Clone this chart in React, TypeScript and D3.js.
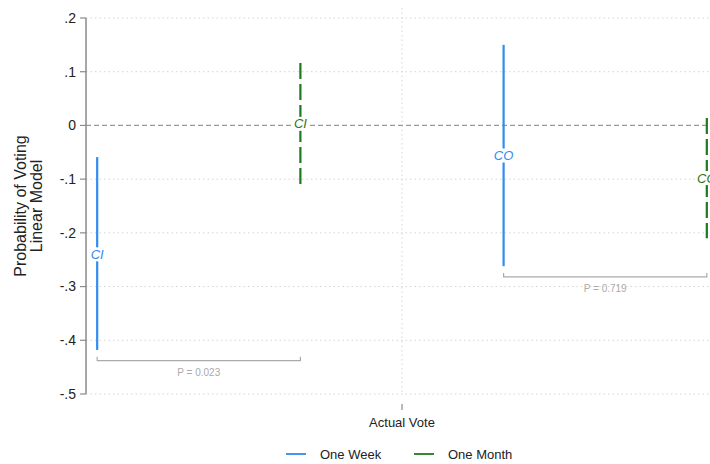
import React from "react";
import * as d3 from "d3";

const categories = ["CI", "CO"];
const seriesNames = ["One Week", "One Month"];
const estimates = [
  [-0.24, 0.003],
  [-0.056, -0.098],
];
const lowers = [
  [-0.418, -0.109],
  [-0.262, -0.21],
];
const uppers = [
  [-0.059, 0.116],
  [0.15, 0.014],
];
const pValues = ["P = 0.023", "P = 0.719"];
const yTicks = [0.2, 0.1, 0, -0.1, -0.2, -0.3, -0.4, -0.5];
const yTickLabels = [".2", ".1", "0", "-.1", "-.2", "-.3", "-.4", "-.5"];
const xTitle = "Actual Vote";
const yTitle = ["Probability of Voting", "Linear Model"];

const W = 710;
const H = 464;
const colors = ["#2f8cf0", "#1f7a1f"];
const dashes = ["none", "16,5"];
const FONT = "'Liberation Sans', Arial, sans-serif";

export default function App() {
  const y = d3.scaleLinear().domain([-0.5, 0.2]).range([394, 18]);
  const x = d3.scaleLinear().domain([0.945, 4.055]).range([86, 718]);
  const pos = (ci: number, si: number) => 1 + ci * 2 + si;

  return (
    <svg width={W} height={H} style={{ position: "absolute", left: 0, top: 0, background: "#fff" }} fontFamily={FONT}>
      {/* horizontal gridlines */}
      {yTicks.map((t, i) =>
        t === 0 ? null : (
          <line key={"g" + i} x1={86} x2={W} y1={y(t)} y2={y(t)} stroke="#d4d4d4" strokeWidth={1} strokeDasharray="1.5,3" />
        )
      )}
      {/* vertical gridline */}
      <line x1={x(2.5)} x2={x(2.5)} y1={8} y2={394} stroke="#d4d4d4" strokeWidth={1} strokeDasharray="1.5,3" />
      {/* zero line */}
      <line x1={86} x2={W} y1={y(0)} y2={y(0)} stroke="#9a9a9a" strokeWidth={1.2} strokeDasharray="5,3" />
      {/* y axis */}
      <line x1={86} x2={86} y1={y(0.2)} y2={y(-0.5)} stroke="#8a8a8a" strokeWidth={1.5} />
      {yTicks.map((t, i) => (
        <g key={"t" + i}>
          <line x1={80} x2={86} y1={y(t)} y2={y(t)} stroke="#8a8a8a" strokeWidth={1.2} />
          <text x={76} y={y(t)} dy="0.35em" textAnchor="end" fontSize={14} fill="#222">
            {yTickLabels[i]}
          </text>
        </g>
      ))}
      {/* x tick and title */}
      <line x1={x(2.5)} x2={x(2.5)} y1={404} y2={410} stroke="#8a8a8a" strokeWidth={1.2} />
      <text x={x(2.5)} y={427} textAnchor="middle" fontSize={13} fill="#222">{xTitle}</text>
      {/* y title */}
      <g transform={`translate(26,206) rotate(-90)`}>
        <text x={0} y={0} textAnchor="middle" fontSize={16} fill="#222">{yTitle[0]}</text>
        <text x={0} y={16} textAnchor="middle" fontSize={16} fill="#222">{yTitle[1]}</text>
      </g>
      {/* CI lines */}
      {categories.map((c, ci) =>
        seriesNames.map((s, si) => {
          const px = x(pos(ci, si));
          return (
            <g key={c + s}>
              <line x1={px} x2={px} y1={y(uppers[ci][si])} y2={y(lowers[ci][si])} stroke={colors[si]} strokeWidth={2.2} strokeDasharray={dashes[si]} />
              <rect x={px - 9} y={y(estimates[ci][si]) - 7} width={18} height={14} fill="#fff" />
              <text x={px} y={y(estimates[ci][si])} dy="0.36em" textAnchor="middle" fontSize={13} fontStyle="italic" fill={colors[si]}>
                {c}
              </text>
            </g>
          );
        })
      )}
      {/* p-value brackets */}
      {categories.map((c, ci) => {
        const x1 = x(pos(ci, 0));
        const x2 = x(pos(ci, 1));
        const by = y(Math.min(lowers[ci][0], lowers[ci][1]) - 0.02);
        return (
          <g key={"p" + c}>
            <path d={`M${x1},${by - 4}V${by}H${x2}V${by - 4}`} fill="none" stroke="#aaaaaa" strokeWidth={1.2} />
            <text x={(x1 + x2) / 2} y={by + 15} textAnchor="middle" fontSize={10} fill="#aaaaaa">
              {pValues[ci]}
            </text>
          </g>
        );
      })}
      {/* legend */}
      {seriesNames.map((s, si) => {
        const lx = si === 0 ? 286 : 414;
        return (
          <g key={"l" + s}>
            <line x1={lx} x2={lx + 20} y1={454} y2={454} stroke={colors[si]} strokeWidth={1.8} />
            <text x={lx + 34} y={454} dy="0.36em" fontSize={13} fill="#222">{s}</text>
          </g>
        );
      })}
    </svg>
  );
}
